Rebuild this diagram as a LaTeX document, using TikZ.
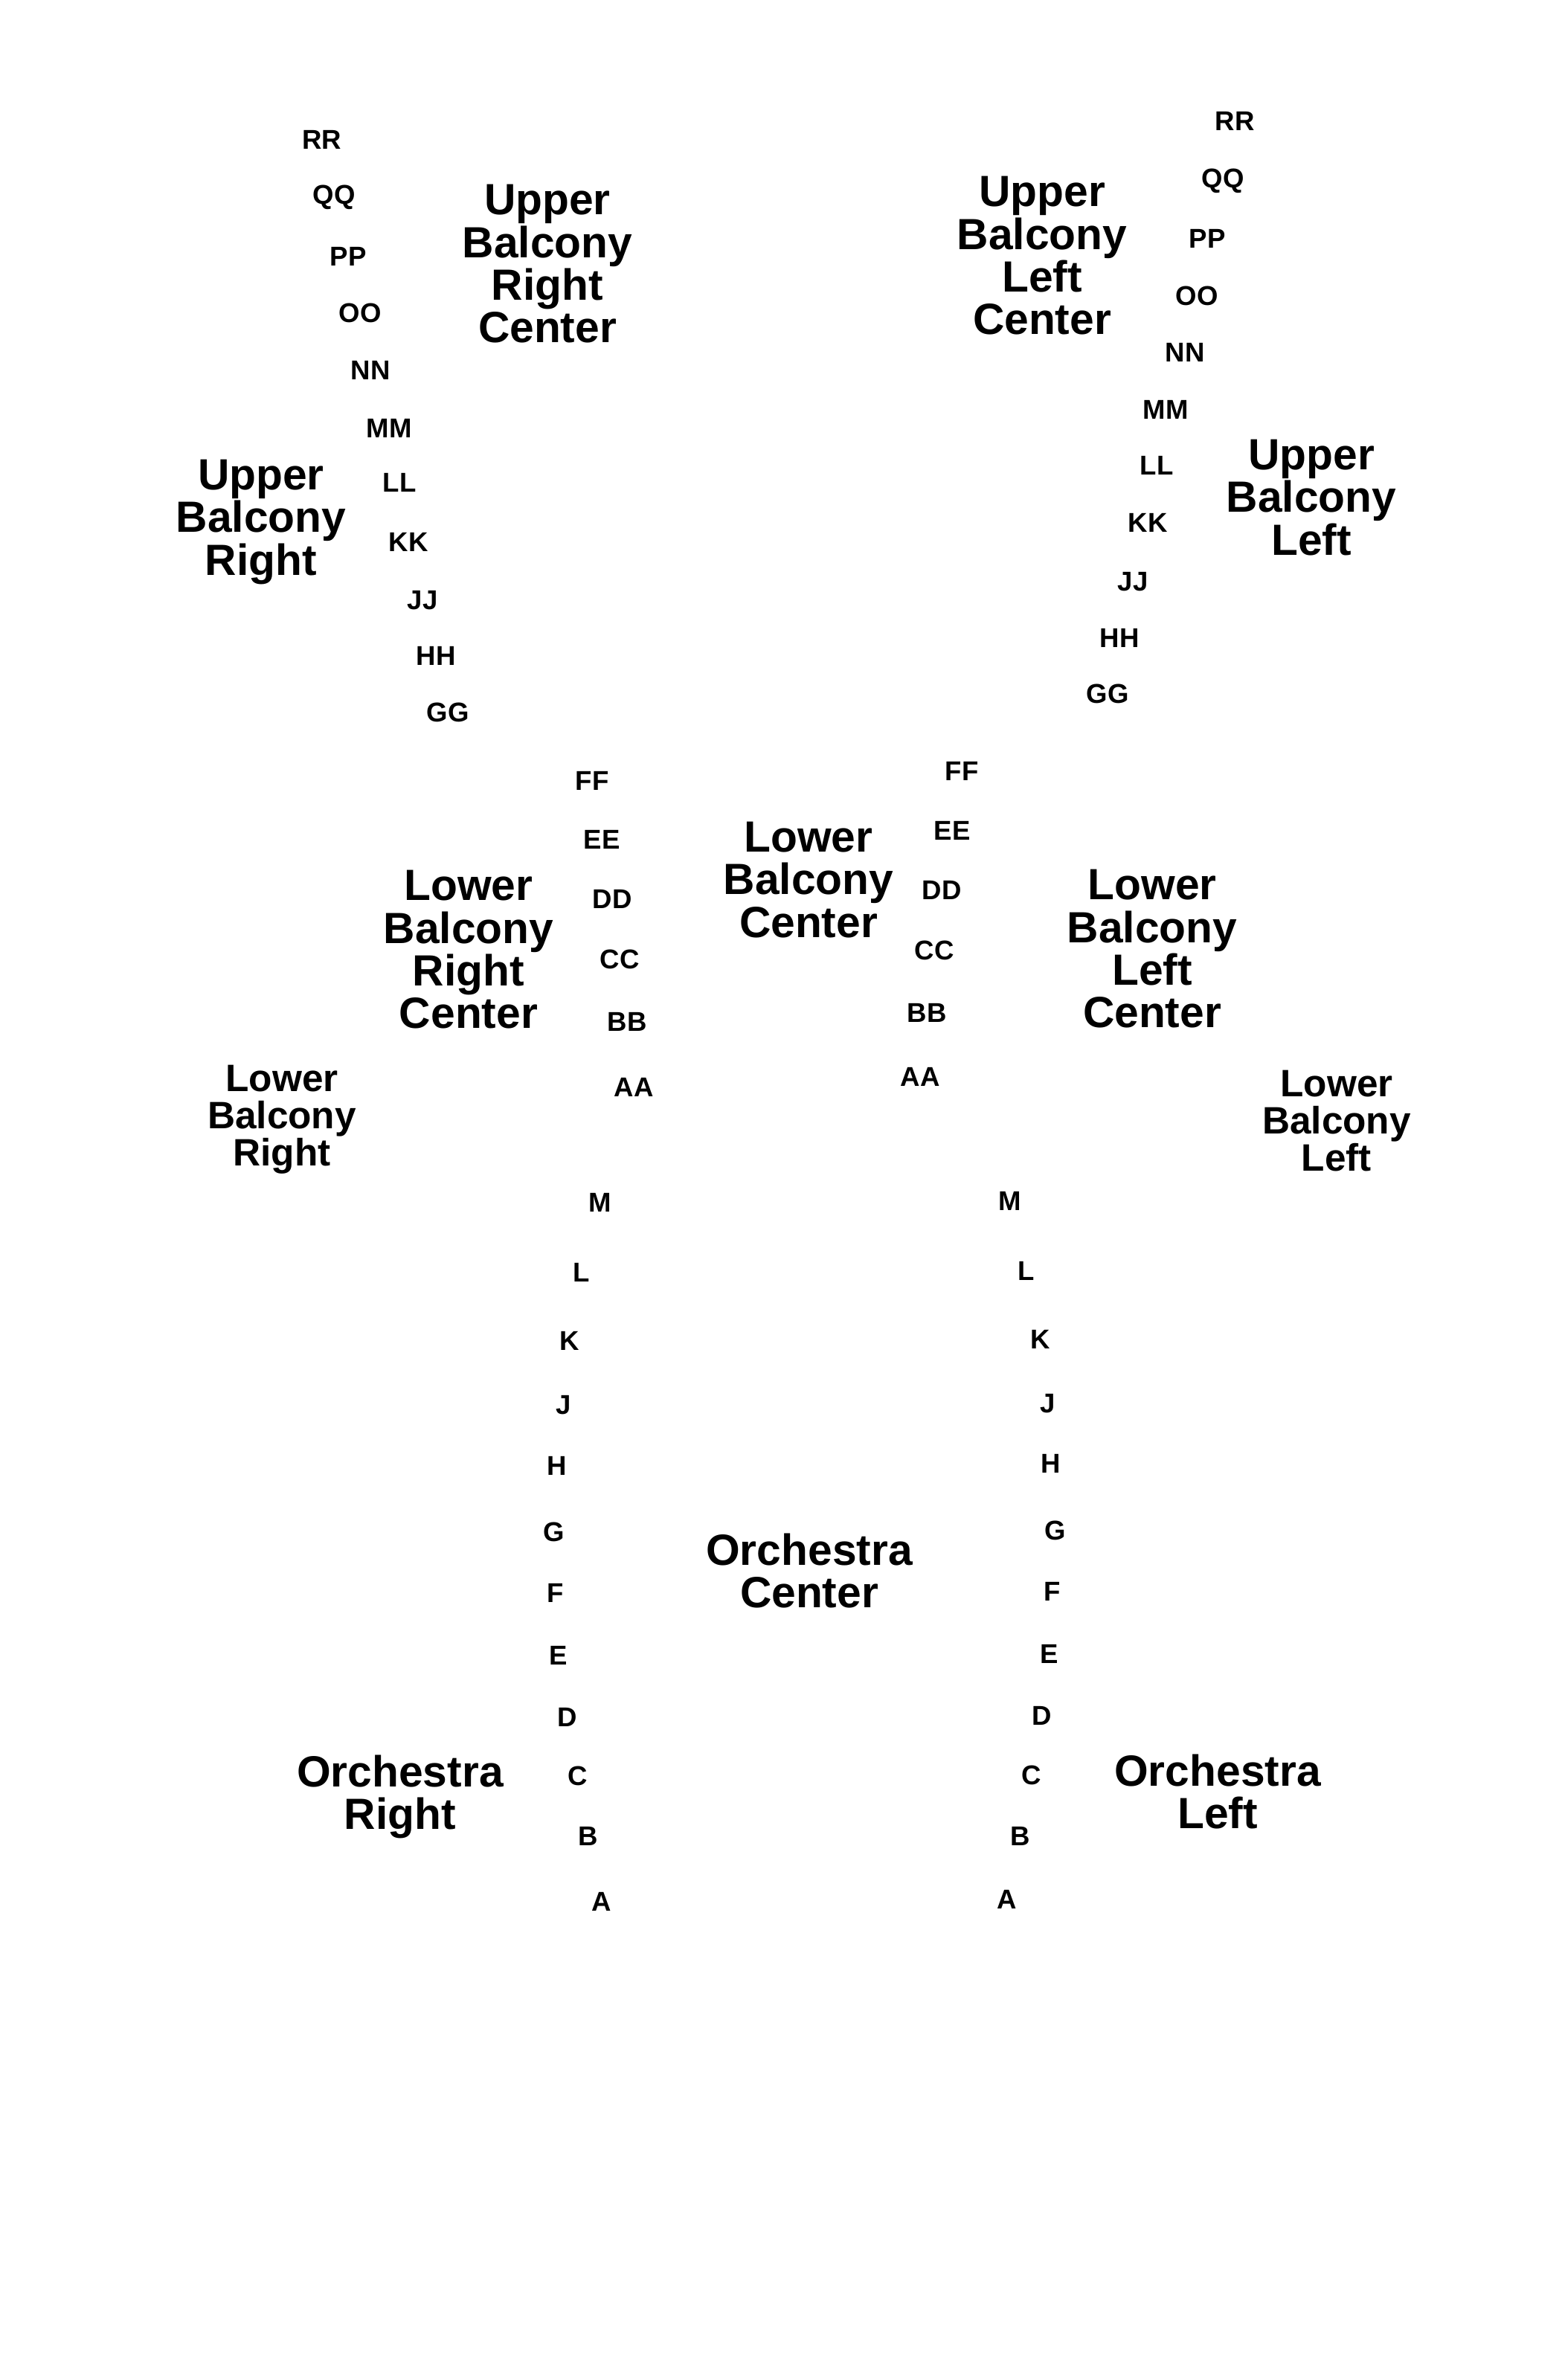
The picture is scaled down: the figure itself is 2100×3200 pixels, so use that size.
\documentclass[tikz,border=0pt]{standalone}
\usepackage{fontspec}
\setmainfont{Liberation Sans}
\usepackage{tikz}
\usetikzlibrary{positioning}

\tikzset{
  rowlbl/.style={font=\fontsize{10.4}{12}\selectfont\bfseries, inner sep=0pt},
  sectlbl/.style={align=center, inner sep=0pt, font=\fontsize{16.7}{16.3}\selectfont\bfseries},
  sectsmall/.style={align=center, inner sep=0pt, font=\fontsize{14.6}{14.2}\selectfont\bfseries}
}

\begin{document}
\begin{tikzpicture}[x=0.01cm,y=-0.01cm]

\useasboundingbox (0,0) rectangle (2100,3200);

% upper balcony rows
\foreach \r/\x/\y in {RR/433/188,QQ/449/265,PP/468/345,OO/484/421,NN/498/498,MM/523/576,LL/537/649,KK/549/729,JJ/568/807,HH/586/882,GG/602/958}
  \node[rowlbl] (ubr\r) at (\x,\y) {\r};
\foreach \r/\x/\y in {RR/1660/163,QQ/1644/243,PP/1623/321,OO/1609/398,NN/1593/474,MM/1567/551,LL/1555/626,KK/1543/703,JJ/1523/782,HH/1505/858,GG/1489/933}
  \node[rowlbl] (ubl\r) at (\x,\y) {\r};

% lower balcony rows
\foreach \r/\x/\y in {FF/796/1050,EE/809/1129,DD/823/1209,CC/833/1290,BB/843/1374,AA/852/1462}
  \node[rowlbl] (lbr\r) at (\x,\y) {\r};
\foreach \r/\x/\y in {FF/1293/1037,EE/1280/1117,DD/1266/1197,CC/1256/1278,BB/1246/1362,AA/1237/1448}
  \node[rowlbl] (lbl\r) at (\x,\y) {\r};

% orchestra rows
\foreach \r/\x/\y in {M/807/1617,L/782/1711,K/766/1803,J/758/1889,H/749/1971,G/745/2060,F/747/2142,E/751/2226,D/763/2309,C/777/2388,B/791/2469,A/809/2557}
  \node[rowlbl] (or\r) at (\x,\y) {\r};
\foreach \r/\x/\y in {M/1358/1615,L/1380/1709,K/1399/1801,J/1409/1887,H/1413/1968,G/1419/2058,F/1415/2140,E/1411/2224,D/1401/2307,C/1387/2387,B/1372/2469,A/1354/2554}
  \node[rowlbl] (ol\r) at (\x,\y) {\r};

% sections
\node[sectlbl] (ubrc) at (736,355) {Upper\\Balcony\\Right\\Center};
\node[sectlbl] (ubr) at (351,702) {Upper\\Balcony\\Right};
\node[sectlbl] (ublc) at (1401,344) {Upper\\Balcony\\Left\\Center};
\node[sectlbl] (ubl) at (1763,669) {Upper\\Balcony\\Left};
\node[sectlbl] (lbrc) at (630,1277) {Lower\\Balcony\\Right\\Center};
\node[sectlbl] (lbc) at (1087,1183) {Lower\\Balcony\\Center};
\node[sectlbl] (lblc) at (1549,1276) {Lower\\Balcony\\Left\\Center};
\node[sectsmall] (lbr) at (379,1505) {Lower\\Balcony\\Right};
\node[sectsmall] (lbl) at (1797,1507) {Lower\\Balcony\\Left};
\node[sectlbl] (oc) at (1088,2112) {Orchestra\\Center};
\node[sectlbl] (orr) at (538,2416) {Orchestra\\Right};
\node[sectlbl] (oll) at (1637,2409) {Orchestra\\Left};

\end{tikzpicture}
\end{document}
